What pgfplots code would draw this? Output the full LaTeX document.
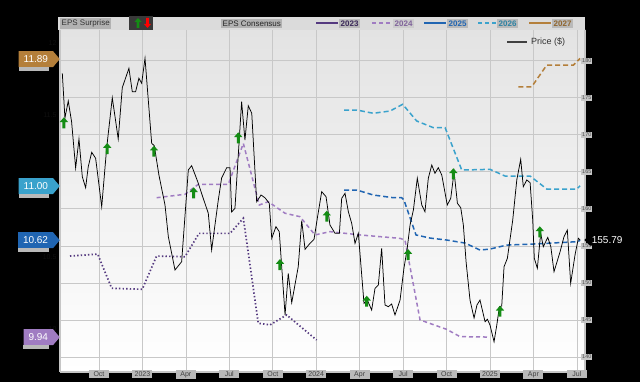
\documentclass[border=0pt]{standalone}
\usepackage{fontspec}
\setmainfont{Liberation Sans}
\usepackage{pgfplots}
\pgfplotsset{compat=1.18}
\usetikzlibrary{shapes.symbols}
\definecolor{c23}{HTML}{553A80}
\definecolor{c24}{HTML}{A07CC2}
\definecolor{c25}{HTML}{2065B2}
\definecolor{c26}{HTML}{3AA2CC}
\definecolor{c27}{HTML}{B47F3A}
\definecolor{gridc}{HTML}{C8C8C8}
\definecolor{upc}{HTML}{148C14}
\pgfdeclareplotmark{uparrow}{%
 \pgfpathmoveto{\pgfpoint{0pt}{6pt}}%
 \pgfpathlineto{\pgfpoint{4.2pt}{1.2pt}}%
 \pgfpathlineto{\pgfpoint{1.5pt}{1.2pt}}%
 \pgfpathlineto{\pgfpoint{1.5pt}{-5pt}}%
 \pgfpathlineto{\pgfpoint{-1.5pt}{-5pt}}%
 \pgfpathlineto{\pgfpoint{-1.5pt}{1.2pt}}%
 \pgfpathlineto{\pgfpoint{-4.2pt}{1.2pt}}%
 \pgfpathclose\pgfusepathqfill}
\pgfplotsset{base/.style={scale only axis, width=525pt, height=342pt,
  xmin=-2.69, xmax=33.56, at={(60pt,10pt)}, anchor=south west,
  /pgf/number format/assume math mode=true}}
\begin{document}
\begin{tikzpicture}
\fill[black] (0,0) rectangle (640pt,382pt);
% background axis: price scale, grid, date labels
\begin{axis}[base, ymin=137.96, ymax=184.16,
  axis y line*=right, axis x line*=bottom,
  axis background/.style={top color=gray!22, bottom color=white},
  grid=major, grid style={draw=gridc, line width=0.7pt},
  axis line style={draw=gray!45, line width=1.2pt},
  major tick length=0pt,
  xtick={0,3,...,33},
  xticklabels={Oct,2023,Apr,Jul,Oct,2024,Apr,Jul,Oct,2025,Apr,Jul},
  xticklabel style={font=\fontsize{7}{8}\selectfont, fill=gray!55, text=black!75, inner sep=1.2pt, minimum width=20pt, yshift=2pt},
  ytick={140,145,...,180},
  yticklabel style={font=\fontsize{5.5}{6}\selectfont, fill=gray!45, text=black!70, inner sep=1pt, xshift=-4pt},
  ]
\addplot[draw=none] coordinates {(0,150)};
\end{axis}
% EPS consensus axis
\begin{axis}[base, ymin=9.696, ymax=12.094, axis y line*=left, axis x line=none,
  ytick={10,10.5,...,12}, major tick length=0pt,
  yticklabel style={font=\fontsize{7}{8}\selectfont, text=gray!12!black},
  axis line style={draw=gray!45, line width=1.2pt}, clip=false]
\addplot[c23, line width=1.7pt, dash pattern=on 1.4pt off 2.2pt] coordinates {
(-2.00,10.509) (-0.09,10.523) (0.88,10.283) (2.99,10.276) (3.98,10.509) (5.94,10.504)
(6.91,10.668) (9.05,10.668) (9.97,10.774) (11.00,10.038) (11.81,10.026) (12.96,10.096) (15.03,9.920)};
\addplot[c24, line width=1.5pt, dash pattern=on 4pt off 3pt] coordinates {
(3.98,10.918) (5.94,10.942) (6.86,11.012) (8.93,11.012) (9.97,11.299) (11.07,10.867) (11.69,10.890)
(12.85,10.809) (13.88,10.785) (14.92,10.657) (15.95,10.680) (18.02,10.657) (20.79,10.633) (21.13,10.621)
(22.17,10.061) (24.01,9.995) (24.93,9.944) (26.86,9.941)};
\addplot[c25, line width=1.5pt, dash pattern=on 5pt off 3pt] coordinates {
(16.92,10.972) (17.80,10.972) (18.94,10.937) (20.32,10.918) (20.90,10.918) (21.06,10.902) (21.89,10.657)
(22.86,10.635) (24.03,10.621) (25.28,10.600) (26.31,10.551) (27.00,10.558) (28.16,10.586) (29.97,10.593)
(33.08,10.610) (33.22,10.621)};
\addplot[c26, line width=1.5pt, dash pattern=on 5pt off 3pt] coordinates {
(16.92,11.533) (17.80,11.533) (18.94,11.510) (20.10,11.526) (20.97,11.573) (21.94,11.456) (23.09,11.409)
(23.90,11.409) (25.05,11.112) (27.00,11.117) (28.04,11.070) (29.77,11.070) (30.92,10.979) (33.00,10.979) (33.22,11.002)};
\addplot[c27, line width=1.5pt, dash pattern=on 5pt off 3pt] coordinates {
(28.96,11.696) (29.88,11.696) (30.92,11.848) (32.76,11.848) (33.22,11.895)};
% value flags
\foreach \v/\c in {11.89/c27, 11.00/c26, 10.62/c25, 9.94/c24}{
  \edef\tmp{\noexpand\node[signal, signal to=east, signal pointer angle=100, fill=\c, text=white,
    font=\noexpand\fontsize{10}{12}\noexpand\selectfont, minimum height=16pt, inner xsep=5pt, anchor=east]
    (fl) at (axis cs:-2.69,\v) {\v};}\tmp
  \fill[gray!55] ([yshift=-3.5pt]fl.south west) rectangle ([xshift=-4pt]fl.south east);
}
\end{axis}
% price axis
\begin{axis}[base, ymin=137.96, ymax=184.16, hide axis, clip=false]
\addplot[black, line width=0.75pt] coordinates {
(-2.53,178.31) (-2.35,172.27) (-2.12,174.57) (-1.89,171.77) (-1.61,165.52) (-1.38,169.44) (-1.15,164.34)
(-0.92,162.86) (-0.74,165.69) (-0.50,167.64) (-0.23,166.83) (0.19,160.29) (0.53,168.18) (0.92,175.01)
(1.33,169.44) (1.61,176.37) (2.07,178.99) (2.30,175.83) (2.53,175.83) (2.76,177.64) (2.95,176.96)
(3.18,180.34) (3.64,168.85) (3.82,168.53) (4.14,164.57) (4.56,160.52) (4.79,156.24) (5.25,151.74)
(5.71,152.86) (6.17,165.25) (6.40,165.83) (6.82,163.67) (7.20,161.42) (7.55,159.40) (7.78,154.44)
(8.24,161.19) (8.47,164.17) (8.82,165.56) (9.05,165.56) (9.16,159.57) (9.39,160.07) (9.85,174.47)
(10.08,169.30) (10.31,173.93) (10.55,172.91) (10.89,160.96) (11.19,161.87) (11.46,161.50) (11.76,160.75)
(11.93,156.02) (12.22,157.59) (12.45,156.91) (12.85,145.66) (13.07,151.29) (13.31,147.32) (13.76,152.18)
(14.00,158.40) (14.23,154.53) (14.57,155.34) (14.85,155.88) (15.08,158.76) (15.38,162.32) (15.68,161.64)
(15.95,157.82) (16.30,156.70) (16.60,156.70) (16.76,161.42) (16.99,162.10) (17.22,159.61) (17.45,158.05)
(17.68,155.34) (17.91,156.70) (18.30,147.24) (18.53,147.68) (18.83,146.33) (19.06,149.26) (19.29,149.71)
(19.52,154.67) (19.75,147.01) (19.98,146.78) (20.21,147.14) (20.44,145.66) (20.79,147.68) (21.06,152.01)
(21.27,154.44) (21.48,157.82) (21.71,159.84) (21.98,164.13) (22.29,160.52) (22.51,159.61) (22.74,164.13)
(22.98,165.92) (23.20,164.80) (23.43,165.56) (23.67,164.57) (24.05,160.52) (24.29,161.42) (24.52,165.02)
(24.75,160.75) (24.98,160.15) (25.16,157.82) (25.35,152.82) (25.62,147.68) (25.90,145.25) (26.10,147.01)
(26.31,147.68) (26.66,144.75) (26.82,145.08) (27.00,144.31) (27.28,142.05) (27.47,144.31) (27.65,146.78)
(27.81,146.87) (27.97,152.18) (28.20,153.32) (28.57,158.49) (28.85,163.90) (29.12,166.69) (29.30,162.99)
(29.54,163.90) (29.77,163.53) (29.95,158.49) (30.06,153.32) (30.27,151.97) (30.50,156.70) (30.68,154.88)
(30.99,156.15) (31.20,154.88) (31.42,151.51) (31.84,154.21) (32.11,156.24) (32.34,157.14) (32.57,149.94)
(32.87,153.76) (33.10,156.02) (33.22,155.79)};
\addplot[only marks, mark=uparrow, upc] coordinates {
(-2.42,171.56) (0.57,168.08) (3.80,167.72) (6.54,162.10) (9.62,169.53) (12.50,152.41)
(15.73,158.94) (18.49,147.45) (21.34,153.76) (24.47,164.67) (27.69,146.10) (30.44,156.83)};
\node[signal, signal to=west, fill=black, text=white, font=\fontsize{10}{12}\selectfont,
  inner sep=2pt, anchor=west] at ([xshift=-1pt]axis cs:33.56,155.79) {155.79};
\end{axis}
% header strip
\fill[gray!28] (58pt,352pt) rectangle (585pt,365pt);
\node[fill=gray!60, text=black!80, font=\fontsize{8}{9}\selectfont, inner sep=1.5pt, anchor=west] at (60pt,358.5pt) {EPS Surprise};
\fill[gray!45!black] (129pt,352pt) rectangle (153pt,366pt);
\fill[upc] (138pt,364pt) -- (141.5pt,360pt) -- (139.3pt,360pt) -- (139.3pt,354pt) -- (136.7pt,354pt) -- (136.7pt,360pt) -- (134.5pt,360pt) -- cycle;
\fill[red] (147.5pt,354pt) -- (151pt,358pt) -- (148.8pt,358pt) -- (148.8pt,364pt) -- (146.2pt,364pt) -- (146.2pt,358pt) -- (144pt,358pt) -- cycle;
\node[fill=gray!60, text=black!85, font=\fontsize{8}{9}\selectfont, inner sep=1.5pt, anchor=west] at (221pt,358.5pt) {EPS Consensus};
\draw[c23, line width=2pt] (316pt,358.5pt) -- (338pt,358.5pt);
\node[fill=gray!55, text=c23!70!black, font=\bfseries\fontsize{8}{9}\selectfont, inner sep=1.5pt, anchor=west] at (339pt,358.5pt) {2023};
\draw[c24, line width=2pt, dash pattern=on 4pt off 3pt] (372pt,358.5pt) -- (392pt,358.5pt);
\node[fill=gray!40, text=c24!80!black, font=\bfseries\fontsize{8}{9}\selectfont, inner sep=1.5pt, anchor=west] at (393pt,358.5pt) {2024};
\draw[c25, line width=2pt] (424pt,358.5pt) -- (446pt,358.5pt);
\node[fill=gray!55, text=c25, font=\bfseries\fontsize{8}{9}\selectfont, inner sep=1.5pt, anchor=west] at (447pt,358.5pt) {2025};
\draw[c26, line width=2pt, dash pattern=on 4pt off 3pt] (478pt,358.5pt) -- (496pt,358.5pt);
\node[fill=gray!55, text=c26!80!black, font=\bfseries\fontsize{8}{9}\selectfont, inner sep=1.5pt, anchor=west] at (497pt,358.5pt) {2026};
\draw[c27, line width=2pt] (529pt,358.5pt) -- (551pt,358.5pt);
\node[fill=gray!55, text=c27!80!black, font=\bfseries\fontsize{8}{9}\selectfont, inner sep=1.5pt, anchor=west] at (552pt,358.5pt) {2027};
% price legend
\draw[gray!50!black, line width=1.5pt] (507pt,340pt) -- (527pt,340pt);
\node[text=black!80, font=\fontsize{9}{10}\selectfont, anchor=west, inner sep=1pt] at (530pt,340pt) {Price (\$)};
\pgfresetboundingbox
\useasboundingbox (0,0) rectangle (640pt,382pt);
\end{tikzpicture}
\end{document}
